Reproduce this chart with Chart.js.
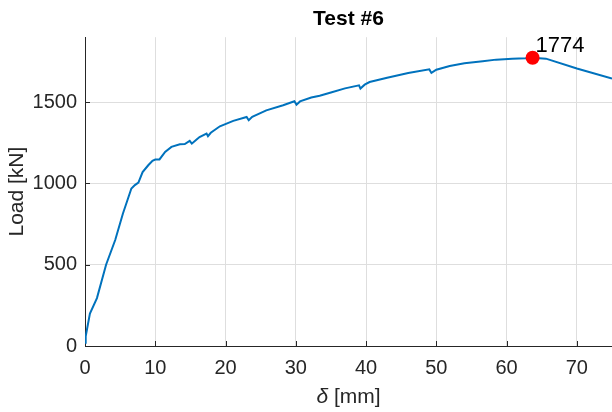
<!DOCTYPE html>
<html>
<head>
<meta charset="utf-8">
<script src="https://cdn.jsdelivr.net/npm/chart.js@4"></script>
<style>
  html, body { margin: 0; padding: 0; background: #fff; }
  #wrap { width: 612px; height: 412px; }
</style>
</head>
<body>
<div id="wrap"><canvas id="loadChart"></canvas></div>
<script>
/* Load–displacement curve, Test #6 */

const deltaMm = [
  0, 0.1, 0.7, 1.7, 3.0, 4.3, 5.4, 6.6, 7.1, 7.6, 8.2, 9.0, 9.6, 10.0, 10.6,
  11.4, 12.3, 13.5, 14.2, 14.9, 15.2, 15.8, 16.3, 17.3, 17.5, 17.9, 19.2,
  21.1, 23.0, 23.3, 23.8, 25.8, 28.2, 29.8, 30.1, 30.6, 32.2, 33.4, 35.0,
  37.0, 39.0, 39.2, 39.8, 40.5, 43.0, 46.0, 49.0, 49.3, 50.0, 51.9, 54.0,
  56.6, 58.5, 60.8, 62.7, 63.7, 65.6, 70.0, 75.0
];
const loadKN = [
  20, 60, 200, 295, 500, 652, 815, 969, 990, 1005, 1070, 1112, 1140, 1147, 1148,
  1194, 1225, 1241, 1243, 1262, 1245, 1268, 1286, 1307, 1291, 1312, 1352,
  1385, 1409, 1389, 1410, 1450, 1481, 1506, 1485, 1505, 1529, 1540, 1560,
  1585, 1604, 1584, 1608, 1624, 1650, 1680, 1702, 1680, 1700, 1723, 1740,
  1752, 1762, 1768, 1770, 1774, 1768, 1707, 1645
];

const peakDelta = 63.7;
const peakLoad = 1774;

const xTicks = [0, 10, 20, 30, 40, 50, 60, 70];
const yTicks = [0, 500, 1000, 1500];

const axisColor = "#262626";
const gridColor = "#dedede";
const fontFamily = "'Liberation Sans', Arial, sans-serif";

// small inward tick marks like the original plot
const innerTicks = {
  id: "innerTicks",
  beforeDatasetsDraw(chart) {
    const { ctx, chartArea, scales } = chart;
    ctx.save();
    ctx.strokeStyle = axisColor;
    ctx.lineWidth = 1;
    ctx.beginPath();
    xTicks.forEach((v) => {
      const px = Math.round(scales.x.getPixelForValue(v)) + 0.5;
      ctx.moveTo(px, chartArea.bottom);
      ctx.lineTo(px, chartArea.bottom - 5);
    });
    yTicks.forEach((v) => {
      const py = Math.round(scales.y.getPixelForValue(v)) + 0.5;
      ctx.moveTo(chartArea.left, py);
      ctx.lineTo(chartArea.left + 5, py);
    });
    ctx.stroke();
    ctx.restore();
  },
};

// peak value text and the x axis title (italic delta)
const extraText = {
  id: "extraText",
  afterDatasetsDraw(chart) {
    const { ctx, scales, chartArea } = chart;
    const px = scales.x.getPixelForValue(peakDelta);
    const py = scales.y.getPixelForValue(peakLoad);
    ctx.save();
    ctx.fillStyle = "#000";
    ctx.font = `22px ${fontFamily}`;
    ctx.textAlign = "left";
    ctx.textBaseline = "alphabetic";
    ctx.fillText(String(peakLoad), px + 3, py - 6);

    const sym = "δ";
    const rest = " [mm]";
    const italic = `italic 21px ${fontFamily}`;
    const normal = `21px ${fontFamily}`;
    ctx.font = italic;
    const w1 = ctx.measureText(sym).width;
    ctx.font = normal;
    const w2 = ctx.measureText(rest).width;
    const cx = (chartArea.left + chartArea.right) / 2;
    const x0 = cx - (w1 + w2) / 2;
    const base = 403;
    ctx.fillStyle = axisColor;
    ctx.font = italic;
    ctx.fillText(sym, x0, base);
    ctx.font = normal;
    ctx.fillText(rest, x0 + w1, base);
    ctx.restore();
  },
};

document.addEventListener("DOMContentLoaded", () => {
  const ctx = document.getElementById("loadChart").getContext("2d");
  const points = deltaMm.map((d, i) => ({ x: d, y: loadKN[i] }));

  new Chart(ctx, {
    type: "line",
    data: {
      datasets: [
        {
          data: [{ x: peakDelta, y: peakLoad }],
          showLine: false,
          pointRadius: 7,
          pointBackgroundColor: "#ff0000",
          pointBorderWidth: 0,
          order: 0,
        },
        {
          data: points,
          borderColor: "#0072BD",
          borderWidth: 2,
          pointRadius: 0,
          tension: 0,
          fill: false,
          order: 1,
        },
      ],
    },
    options: {
      responsive: true,
      maintainAspectRatio: false,
      animation: false,
      layout: { padding: 0, autoPadding: false },
      plugins: {
        legend: { display: false },
        tooltip: { enabled: false },
        title: {
          display: true,
          text: "Test #6",
          fullSize: false,
          color: "#000",
          font: { family: fontFamily, size: 21, weight: "bold" },
          padding: { top: 7, bottom: 5 },
        },
      },
      scales: {
        x: {
          type: "linear",
          min: 0,
          max: 75,
          afterBuildTicks: (s) => { s.ticks = xTicks.map((v) => ({ value: v })); },
          afterFit: (s) => {
            s.height = 66;
            s.paddingLeft = 0;
            s.paddingRight = 0;
          },
          grid: { color: gridColor, drawTicks: false },
          border: { display: true, color: axisColor, width: 1 },
          ticks: {
            color: axisColor,
            padding: 10,
            maxRotation: 0,
            font: { family: fontFamily, size: 20 },
          },
          title: { display: false },
        },
        y: {
          type: "linear",
          min: 0,
          max: 1900,
          afterBuildTicks: (s) => { s.ticks = yTicks.map((v) => ({ value: v })); },
          afterFit: (s) => {
            s.width = 85;
            s.paddingTop = 0;
            s.paddingBottom = 0;
          },
          grid: { color: gridColor, drawTicks: false },
          border: { display: true, color: axisColor, width: 1 },
          ticks: {
            color: axisColor,
            padding: 8,
            callback: (v) => String(v),
            font: { family: fontFamily, size: 20 },
          },
          title: {
            display: true,
            text: "Load [kN]",
            color: axisColor,
            padding: { top: 5, bottom: 0 },
            font: { family: fontFamily, size: 21 },
          },
        },
      },
    },
    plugins: [innerTicks, extraText],
  });
});
</script>
</body>
</html>
